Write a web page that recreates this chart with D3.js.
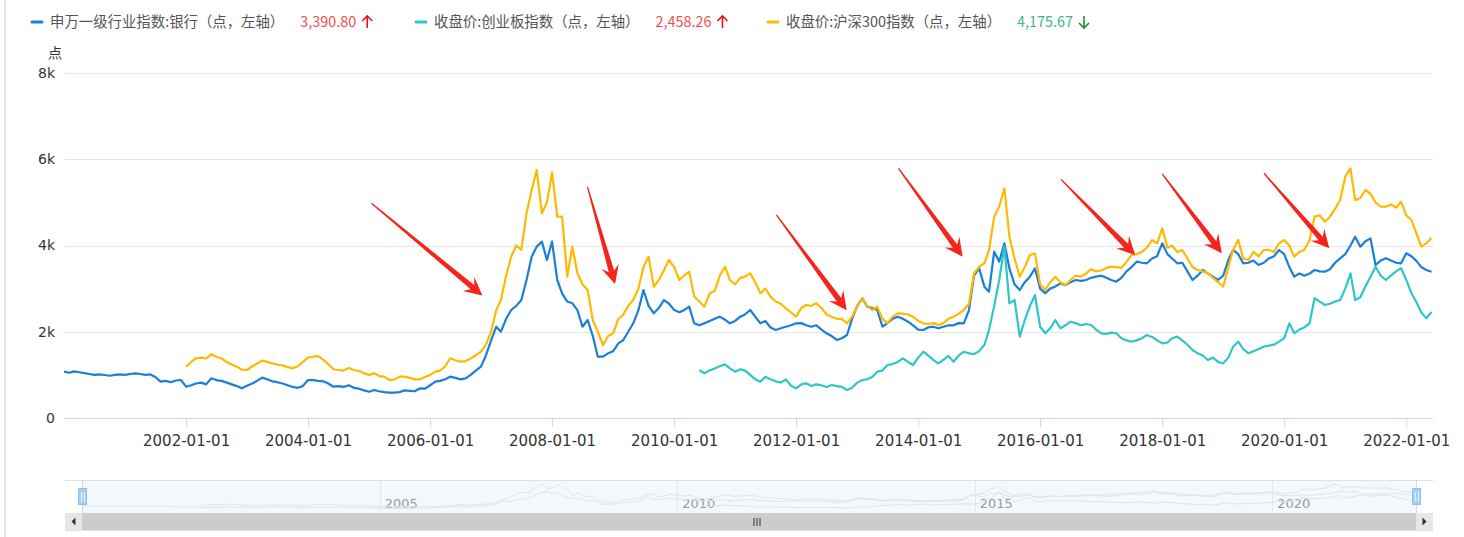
<!DOCTYPE html>
<html>
<head>
<meta charset="utf-8">
<script src="https://cdn.jsdelivr.net/npm/d3@7"></script>
<style>
body { margin: 0; background: #fff; }
svg { display: block; font-family: 'Microsoft YaHei', 'Noto Sans CJK SC', sans-serif; }
</style>
</head>
<body>
<div id="chart"></div>
<script>
// monthly values, first value belongs to the start month
const bankStart = '2000-01'
const bankValues = [
    1074, 1050, 1080, 1060, 1040, 1020, 1000, 1010, 997, 980, 1000, 1010,
    1000, 1020, 1036, 1020, 1000, 1010, 950, 842, 860, 830, 870, 881,
    726, 760, 800, 820, 780, 920, 880, 860, 820, 780, 740, 688,
    750, 800, 860, 935, 900, 850, 830, 800, 760, 720, 700, 740,
    881, 880, 860, 850, 800, 726, 740, 720, 760, 700, 680, 640,
    610, 650, 620, 600, 587, 590, 600, 640, 630, 620, 688, 680,
    760, 842, 860, 900, 958, 930, 897, 920, 1000, 1100, 1190, 1450,
    1800, 2117, 2001, 2300, 2504, 2600, 2736, 3200, 3741, 3973, 4089, 3664,
    4089, 3200, 2891, 2700, 2659, 2500, 2117, 2272, 1900, 1422, 1422, 1500,
    1550, 1732, 1800, 2000, 2196, 2500, 2968, 2600, 2427, 2550, 2736, 2650,
    2504, 2450, 2500, 2582, 2196, 2150, 2196, 2250, 2300, 2350, 2280, 2196,
    2250, 2350, 2400, 2504, 2350, 2196, 2250, 2100, 2041, 2080, 2117, 2150,
    2196, 2200, 2150, 2117, 2150, 2050, 1964, 1900, 1809, 1850, 1925, 2300,
    2600, 2776, 2582, 2550, 2504, 2117, 2200, 2300, 2350, 2300, 2233, 2150,
    2050, 2041, 2100, 2117, 2080, 2117, 2150, 2150, 2200, 2196, 2500, 3300,
    3471, 3046, 2930, 3857, 3625, 4050, 3471, 3100, 2968, 3150, 3277, 3471,
    3000, 2891, 3000, 3050, 3123, 3080, 3150, 3200, 3180, 3200, 3250, 3277,
    3300, 3250, 3200, 3161, 3250, 3400, 3500, 3625, 3600, 3587, 3700, 3750,
    4050, 3800, 3700, 3587, 3600, 3400, 3200, 3300, 3432, 3350, 3277, 3200,
    3300, 3664, 3896, 3800, 3587, 3600, 3650, 3548, 3600, 3700, 3750, 3896,
    3800, 3500, 3277, 3350, 3300, 3350, 3432, 3400, 3393, 3450, 3600, 3703,
    3800, 4000, 4205, 3973, 4100, 4166, 3548, 3650, 3703, 3650, 3600, 3587,
    3819, 3750, 3650, 3500, 3432, 3390.80
]

const chinextStart = '2010-06'
const chinextValues = [
    1113, 1036, 1100, 1150, 1200, 1244, 1150,
    1074, 1128, 1100, 1000, 900, 842, 958, 900, 850, 819, 897, 750,
    688, 780, 804, 742, 780, 760, 720, 765, 740, 720, 649, 700,
    820, 881, 897, 950, 1074, 1100, 1229, 1250, 1300, 1384, 1300, 1229,
    1400, 1538, 1450, 1350, 1268, 1350, 1438, 1306, 1450, 1538, 1500, 1480,
    1550, 1693, 2041, 2600, 3200, 3973, 2659, 2736, 1886, 2272, 2600, 2852,
    2117, 1964, 2080, 2272, 2080, 2150, 2233, 2200, 2150, 2180, 2157, 2050,
    1964, 1950, 1980, 1964, 1850, 1800, 1770, 1800, 1850, 1925, 1880, 1800,
    1732, 1750, 1850, 1886, 1800, 1700, 1577, 1500, 1450, 1345, 1400, 1300,
    1268, 1400, 1650, 1770, 1600, 1500, 1550, 1600, 1654, 1680, 1700, 1770,
    1850, 2196, 1964, 2050, 2100, 2196, 2776, 2700, 2620, 2650, 2700, 2736,
    3000, 3355, 2736, 2800, 3050, 3277, 3509, 3300, 3200, 3300, 3400, 3471,
    3200, 2891, 2700, 2450, 2311, 2458.26
]

const hs300Start = '2002-01'
const hs300Values = [
    1190, 1300, 1384, 1400, 1380, 1480, 1420, 1380, 1300, 1240, 1190, 1120,
    1113, 1200, 1260, 1329, 1300, 1268, 1240, 1220, 1180, 1152, 1200, 1300,
    1400, 1422, 1438, 1350, 1250, 1130, 1113, 1100, 1160, 1113, 1090, 1036,
    1000, 1040, 970, 960, 881, 890, 958, 960, 930, 897, 897, 950,
    1000, 1074, 1100, 1200, 1384, 1340, 1306, 1320, 1380, 1450, 1538, 1700,
    2000, 2504, 2736, 3300, 3741, 4000, 3900, 4746, 5287, 5751, 4746, 5000,
    5689, 4669, 4669, 3277, 3973, 3355, 3100, 2968, 2272, 2000, 1693, 1900,
    1964, 2300, 2388, 2600, 2736, 3000, 3500, 3741, 3046, 3200, 3432, 3664,
    3500, 3200, 3300, 3393, 2814, 2700, 2582, 2891, 2950, 3300, 3509, 3200,
    3100, 3250, 3277, 3355, 3150, 2891, 3000, 2814, 2700, 2650, 2543, 2450,
    2350, 2550, 2620, 2600, 2659, 2550, 2400, 2350, 2300, 2300, 2196, 2350,
    2600, 2776, 2600, 2504, 2582, 2300, 2196, 2350, 2427, 2420, 2400, 2350,
    2250, 2196, 2180, 2200, 2157, 2200, 2300, 2350, 2420, 2504, 2650, 3350,
    3509, 3587, 3896, 4669, 4900, 5326, 4205, 3700, 3277, 3500, 3780, 3819,
    3100, 2968, 3150, 3277, 3150, 3084, 3200, 3300, 3277, 3350, 3450, 3400,
    3420, 3480, 3509, 3500, 3480, 3620, 3780, 3800, 3850, 3950, 4127, 4050,
    4398, 3950, 4000, 3850, 3896, 3700, 3500, 3432, 3400, 3355, 3250, 3150,
    3046, 3500, 3896, 4127, 3700, 3664, 3850, 3750, 3896, 3900, 3850, 4050,
    4127, 4000, 3741, 3850, 3900, 4127, 4669, 4700, 4550, 4669, 4850, 5055,
    5596, 5790, 5055, 5100, 5287, 5200, 5000, 4900, 4900, 4950, 4880, 5016,
    4700, 4591, 4300, 3973, 4050, 4175.67
]

const seriesNames = ['申万一级行业指数:银行（点，左轴）', '收盘价:创业板指数（点，左轴）', '收盘价:沪深300指数（点，左轴）']
const latestValues = [3390.80, 2458.26, 4175.67]
const latestChange = ['up', 'up', 'down']
const yTicks = [0, 2000, 4000, 6000, 8000]
const yTitle = '点'
const navYears = ['2005', '2010', '2015', '2020']

// red arrows drawn on the chart, [date, value] of tail and tip
const arrowTails = [['2005-01-15', 4980], ['2008-07-31', 5360], ['2011-09-05', 4710], ['2013-09-05', 5790],
    ['2016-05-05', 5535], ['2018-01-01', 5660], ['2019-09-02', 5675]]
const arrowTips = [['2006-11-10', 2840], ['2009-01-12', 3110], ['2012-10-30', 2500], ['2014-09-24', 3740],
    ['2017-07-23', 3780], ['2018-12-24', 3820], ['2020-09-27', 3935]]

const colors = ['#1a7fd6', '#2ec6c9', '#ffb900']
const width = 1464
const height = 537
const plot = {left: 64, right: 1433, top: 73, bottom: 418}

const parseMonth = d3.timeParse('%Y-%m')
const parseDay = d3.timeParse('%Y-%m-%d')
const toSeries = (start, values) => values.map((v, i) => ({date: d3.timeMonth.offset(parseMonth(start), i), value: v}))
const series = [toSeries(bankStart, bankValues), toSeries(chinextStart, chinextValues), toSeries(hs300Start, hs300Values)]

const svg = d3.select('#chart').append('svg')
    .attr('width', width)
    .attr('height', height)

// page border on the left
svg.append('line')
    .attr('x1', 5).attr('x2', 5).attr('y1', 0).attr('y2', height)
    .attr('stroke', '#e6e6e6').attr('stroke-width', 2)

const x = d3.scaleTime()
    .domain([new Date(2000, 0, 1), new Date(2022, 5, 10)])
    .range([plot.left, plot.right])
const y = d3.scaleLinear()
    .domain([0, 8000])
    .range([plot.bottom, plot.top])

// grid
svg.append('g').selectAll('line')
    .data(yTicks.filter(d => d > 0))
    .join('line')
    .attr('x1', plot.left + 1).attr('x2', plot.right)
    .attr('y1', d => Math.round(y(d)) + 0.5).attr('y2', d => Math.round(y(d)) + 0.5)
    .attr('stroke', '#e6e6e6')

// y axis labels
const yAxis = svg.append('g')
    .attr('transform', 'translate(55,0)')
    .call(d3.axisLeft(y).tickValues(yTicks).tickSize(0).tickPadding(0)
        .tickFormat(d => d === 0 ? '0' : d / 1000 + 'k'))
yAxis.select('.domain').remove()
yAxis.selectAll('text')
    .attr('font-size', 14)
    .attr('font-family', 'DejaVu Sans, sans-serif')
    .attr('fill', '#333')
svg.append('text')
    .attr('x', 55).attr('y', 53)
    .attr('text-anchor', 'middle')
    .attr('dy', '0.35em')
    .attr('font-size', 14)
    .attr('fill', '#333')
    .text(yTitle)

// x axis
const xTicks = d3.timeYear.every(2).range(new Date(2002, 0, 1), new Date(2022, 1, 1))
const xAxis = svg.append('g')
    .attr('transform', `translate(0,${plot.bottom})`)
    .call(d3.axisBottom(x).tickValues(xTicks).tickSize(9).tickPadding(8)
        .tickFormat(d3.timeFormat('%Y-%m-%d')))
xAxis.select('.domain').remove()
xAxis.selectAll('line').attr('stroke', '#ccd6eb')
xAxis.selectAll('text')
    .attr('font-size', 15)
    .attr('font-family', 'DejaVu Sans, sans-serif')
    .attr('fill', '#333')
svg.append('line')
    .attr('x1', plot.left + 1).attr('x2', plot.right)
    .attr('y1', plot.bottom + 0.5).attr('y2', plot.bottom + 0.5)
    .attr('stroke', '#ccd6eb')

// series lines
const line = d3.line()
    .x(d => x(d.date))
    .y(d => y(d.value))
svg.append('g').selectAll('path')
    .data(series)
    .join('path')
    .attr('d', line)
    .attr('fill', 'none')
    .attr('stroke', (d, i) => colors[i])
    .attr('stroke-width', 2.2)
    .attr('stroke-linejoin', 'round')

// annotation arrows
function arrowPoints (t, p) {
    const dx = p[0] - t[0], dy = p[1] - t[1]
    const len = Math.hypot(dx, dy)
    const ux = dx / len, uy = dy / len, nx = -uy, ny = ux
    const at = (along, side) => [p[0] - ux * along + nx * side, p[1] - uy * along + ny * side]
    return [[t[0] + nx * 0.6, t[1] + ny * 0.6], at(13, 2.8), at(18, 9), p, at(18, -9), at(13, -2.8), [t[0] - nx * 0.6, t[1] - ny * 0.6]]
}
svg.append('g').selectAll('polygon')
    .data(arrowTails.map((d, i) => [d, arrowTips[i]]))
    .join('polygon')
    .attr('points', d => arrowPoints(
        [x(parseDay(d[0][0])), y(d[0][1])],
        [x(parseDay(d[1][0])), y(d[1][1])]).map(p => p.join(',')).join(' '))
    .attr('fill', '#f5241c')

// legend
const legendStarts = [31, 415, 767]
const fmt = d3.format(',.2f')
seriesNames.forEach((name, i) => {
    const g = svg.append('g').attr('transform', `translate(${legendStarts[i]},22)`)
    g.append('line')
        .attr('x1', 1).attr('x2', 11)
        .attr('stroke', colors[i]).attr('stroke-width', 3).attr('stroke-linecap', 'round')
    const label = g.append('text')
        .attr('x', 19).attr('dy', '0.35em')
        .attr('font-size', 14.4).attr('fill', '#555')
        .text(name)
    const lw = label.node().getComputedTextLength()
    const up = latestChange[i] === 'up'
    const val = g.append('text')
        .attr('x', 19 + lw + 16).attr('dy', '0.35em')
        .attr('font-size', 14.4).attr('fill', up ? '#f24e4e' : '#3fb77c')
        .text(fmt(latestValues[i]))
    const ax = 19 + lw + 16 + val.node().getComputedTextLength() + 11
    const path = up
        ? `M${ax},-6V6M${ax - 5},-1L${ax},-6L${ax + 5},-1`
        : `M${ax},-6V6M${ax - 5},1L${ax},6L${ax + 5},1`
    g.append('path')
        .attr('d', path)
        .attr('fill', 'none')
        .attr('stroke', up ? '#e8141b' : '#1f8f35')
        .attr('stroke-width', 1.6)
})

// navigator
const nav = {left: 82, right: 1416, top: 480, bottom: 513}
const navX = d3.scaleTime()
    .domain([new Date(2000, 0, 1), new Date(2022, 5, 1)])
    .range([nav.left, nav.right])
const navY = d3.scaleLinear()
    .domain([0, 6000])
    .range([nav.bottom - 2, nav.top + 3])
svg.append('rect')
    .attr('x', nav.left).attr('y', nav.top)
    .attr('width', nav.right - nav.left).attr('height', nav.bottom - nav.top)
    .attr('fill', '#f4f8fc')
svg.append('g').selectAll('line')
    .data(navYears)
    .join('line')
    .attr('x1', d => Math.round(navX(parseMonth(d + '-01'))) + 0.5)
    .attr('x2', d => Math.round(navX(parseMonth(d + '-01'))) + 0.5)
    .attr('y1', nav.top).attr('y2', nav.bottom)
    .attr('stroke', '#e3e8ee')
svg.append('g').selectAll('text')
    .data(navYears)
    .join('text')
    .attr('x', d => navX(parseMonth(d + '-01')) + 5)
    .attr('y', 508)
    .attr('font-size', 13)
    .attr('font-family', 'DejaVu Sans, sans-serif')
    .attr('fill', '#9a9a9a')
    .text(d => d)
const navLine = d3.line()
    .x(d => navX(d.date))
    .y(d => navY(d.value))
svg.append('g').selectAll('path')
    .data(series)
    .join('path')
    .attr('d', navLine)
    .attr('fill', 'none')
    .attr('stroke', '#dde4ec')
    .attr('stroke-width', 1)
svg.append('line')
    .attr('x1', plot.left + 1).attr('x2', plot.right)
    .attr('y1', nav.top + 0.5).attr('y2', nav.top + 0.5)
    .attr('stroke', '#e0e0e0')
;[nav.left, nav.right].forEach(hx => {
    svg.append('line')
        .attr('x1', hx + 0.5).attr('x2', hx + 0.5)
        .attr('y1', nav.top).attr('y2', nav.bottom)
        .attr('stroke', '#d6d6d6')
    svg.append('rect')
        .attr('x', hx - 3.5).attr('y', 488.5)
        .attr('width', 8).attr('height', 16)
        .attr('fill', '#a6cff3').attr('stroke', '#8dc0ee')
    svg.append('path')
        .attr('d', `M${hx - 0.5},492V502M${hx + 2.5},492V502`)
        .attr('stroke', '#e6f1fc')
})

// scrollbar
const sb = {top: 513, height: 17}
svg.append('rect')
    .attr('x', plot.left + 1).attr('y', sb.top)
    .attr('width', plot.right - plot.left - 1).attr('height', sb.height)
    .attr('fill', '#cccccc')
svg.append('line')
    .attr('x1', plot.left + 1).attr('x2', plot.right)
    .attr('y1', sb.top + sb.height + 0.5).attr('y2', sb.top + sb.height + 0.5)
    .attr('stroke', '#e4e4e4')
;[[plot.left + 1, 'left'], [nav.right, 'right']].forEach(([bx, dir]) => {
    svg.append('rect')
        .attr('x', bx).attr('y', sb.top)
        .attr('width', 17).attr('height', sb.height)
        .attr('fill', '#e6e6e6')
    const cx = bx + 8.5, cy = sb.top + 8.5
    svg.append('path')
        .attr('d', dir === 'left'
            ? `M${cx - 2},${cy}L${cx + 2},${cy - 4}L${cx + 2},${cy + 4}Z`
            : `M${cx + 2},${cy}L${cx - 2},${cy - 4}L${cx - 2},${cy + 4}Z`)
        .attr('fill', '#333')
})
const gripX = (nav.left + 17 + nav.right) / 2
svg.append('path')
    .attr('d', `M${gripX - 3.5},${sb.top + 5}v8M${gripX - 0.5},${sb.top + 5}v8M${gripX + 2.5},${sb.top + 5}v8`)
    .attr('stroke', '#333')
</script>
</body>
</html>
